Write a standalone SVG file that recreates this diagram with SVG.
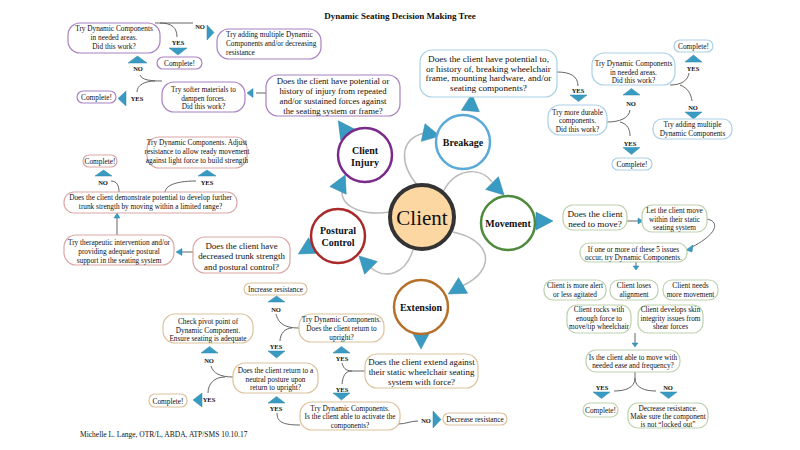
<svg xmlns="http://www.w3.org/2000/svg" width="800" height="450" viewBox="0 0 800 450">
<style>
text{font-family:"Liberation Serif","Times New Roman",serif;fill:#111;text-anchor:middle}
.t8{font-size:7.3px}
.t10{font-size:8.7px}
.t11{font-size:8.9px}
.lab{font-size:6.5px;font-weight:bold}
.cl{font-size:10px;font-weight:bold}
.l{text-anchor:start}
rect{fill:#fff;stroke-width:1.2}
.bp{stroke:#a882c2}
.br{stroke:#dba5a5}
.bt{stroke:#dcc39e}
.bb{stroke:#a9d0e6}
.bg{stroke:#bdd1ad}
.tri{fill:#3a9bc2;stroke:#2f86ab;stroke-width:0.5}
.c{fill:none;stroke:#555;stroke-width:0.9}
.cm{fill:none;stroke:#bbb;stroke-width:1.5}
circle{fill:#fff;stroke-width:2.5}
</style>
<defs>
<polygon id="big" points="-7,-9 10,0 -7,9" class="tri"/>
</defs>
<rect x="0" y="0" width="800" height="450" style="fill:#fff;stroke:none"/>
<text x="400" y="19" style="font-size:9px;font-weight:bold">Dynamic Seating Decision Making Tree</text>

<g id="connectors">
<path class="cm" d="M418,186 C400,165 398,140 424,133"/>
<path class="cm" d="M443,192 C455,168 480,166 492,182"/>
<path class="cm" d="M390,212 C365,216 342,208 342,192"/>
<path class="cm" d="M413,250 C405,275 385,280 370,267"/>
<path class="cm" d="M453,232 C492,240 497,270 462,286"/>
<use href="#big" transform="translate(430,134) rotate(12)"/>
<use href="#big" transform="translate(497,188) rotate(45)"/>
<use href="#big" transform="translate(341,184) rotate(-65)"/>
<use href="#big" transform="translate(366,263) rotate(-135)"/>
<use href="#big" transform="translate(457,289) rotate(150)"/>
<use href="#big" transform="translate(344,129) rotate(-125)"/>
<use href="#big" transform="translate(471,104) rotate(-85)"/>
<use href="#big" transform="translate(543,221) rotate(0)"/>
<use href="#big" transform="translate(307,249) rotate(150)"/>
<use href="#big" transform="translate(421,339) rotate(90)"/>
<!-- injury tree -->
<path class="c" d="M155,23 L193,23 M160,23 C172,23 177,28 177,37"/>
<path class="c" d="M140,75 C142,80 150,81 162,81 M137,92 C137,85 145,81 155,81"/>
<path class="c" d="M266,93 L256,93"/>
<!-- postural tree -->
<path class="c" d="M111,181 C117,181 119,186 119,192 M196,181 C180,181 166,184 165,192"/>
<path class="c" d="M117,235 L117,217 M193,252 L182,252"/>
<!-- extension tree -->
<path class="c" d="M276,314 C278,322 283,328 299,328 M280,341 C280,334 285,328 292,328"/>
<path class="c" d="M211,366 C213,373 220,377 233,377 M208,393 C208,384 214,377 225,377"/>
<path class="c" d="M277,413 C277,422 283,425 300,425"/>
<path class="c" d="M398,424 C406,424 410,421 418,421"/>
<path class="c" d="M365,371 L352,371 C345,371 343,367 342,363 M352,371 C345,371 343,376 342,384"/>
<!-- breakage tree -->
<path class="c" d="M557,72 C570,72 578,76 578,86"/>
<path class="c" d="M607,122 C620,122 629,118 630,110 M620,122 C628,124 630,130 630,136"/>
<path class="c" d="M670,85 C682,85 688,80 689,73 M680,85 C688,88 691,94 692,101"/>
<!-- movement tree -->
<path class="c" d="M627,221 L638,221"/>
<path class="c" d="M706,219 C718,220 721,232 692,247"/>
<path class="c" d="M636,262 L636,266 M635,333 L635,343"/>
<path class="c" d="M635,372 L635,378 C635,388 625,391 614,391 M635,378 C635,388 645,391 656,391"/>
<!-- small triangles -->
<polygon class="tri" points="207,25 214,32.5 207,40"/>
<polygon class="tri" points="169,48 187,48 178,55"/>
<polygon class="tri" points="128,63 147,63 137.5,56"/>
<polygon class="tri" points="126,91 126,106 118,98.5"/>
<polygon class="tri" points="253,88.5 253,97.5 247,93"/>
<polygon class="tri" points="95,176 112,176 103.5,170"/>
<polygon class="tri" points="198,176 216,176 207,170"/>
<polygon class="tri" points="114,218 120,218 117,213"/>
<polygon class="tri" points="182,248.5 182,255.5 176,252"/>
<polygon class="tri" points="268,302 285,302 276.5,296"/>
<polygon class="tri" points="268,351 285,351 276.5,358"/>
<polygon class="tri" points="201,353 218,353 209.5,346.5"/>
<polygon class="tri" points="202,393 202,407 193,400"/>
<polygon class="tri" points="268,403 285,403 276.5,396.5"/>
<polygon class="tri" points="333,353 350,353 341.5,346.5"/>
<polygon class="tri" points="333,393 350,393 341.5,400"/>
<polygon class="tri" points="433,411 433,428 441,419.5"/>
<polygon class="tri" points="570,95 587,95 578.5,101.5"/>
<polygon class="tri" points="623,95 640,95 631.5,88.5"/>
<polygon class="tri" points="623,147.5 640,147.5 631.5,154.5"/>
<polygon class="tri" points="685,62 702,62 693.5,55"/>
<polygon class="tri" points="685,112 702,112 693.5,119"/>
<polygon class="tri" points="638,218 638,224 643,221"/>
<polygon class="tri" points="693,245 692,252 686,250"/>
<polygon class="tri" points="633,266 639,266 636,270"/>
<polygon class="tri" points="632,343 638,343 635,347"/>
<polygon class="tri" points="593,392 610,392 601.5,398.5"/>
<polygon class="tri" points="660,392 677,392 668.5,398.5"/>
<!-- labels -->
<text class="lab" x="200" y="29">NO</text>
<text class="lab" x="178" y="45">YES</text>
<text class="lab" x="138" y="71">NO</text>
<text class="lab" x="137" y="101">YES</text>
<text class="lab" x="103" y="185">NO</text>
<text class="lab" x="207" y="185">YES</text>
<text class="lab" x="276" y="312">NO</text>
<text class="lab" x="276" y="349">YES</text>
<text class="lab" x="209" y="363">NO</text>
<text class="lab" x="209" y="402">YES</text>
<text class="lab" x="276" y="411">YES</text>
<text class="lab" x="342" y="360.5">YES</text>
<text class="lab" x="342" y="392">YES</text>
<text class="lab" x="426" y="423">NO</text>
<text class="lab" x="578" y="93">YES</text>
<text class="lab" x="631" y="105.5">NO</text>
<text class="lab" x="630" y="145.5">YES</text>
<text class="lab" x="693" y="71">YES</text>
<text class="lab" x="693" y="109.5">NO</text>
<text class="lab" x="602" y="389.5">YES</text>
<text class="lab" x="668" y="389.5">NO</text>
</g>

<g id="client"><circle cx="422" cy="217" r="32" style="fill:#fcd7a2;stroke:#333;stroke-width:4"/><text x="422" y="225" style="font-size:21px">Client</text></g>
<g id="injury"><circle cx="365" cy="155" r="27" style="stroke:#7a2a8a"/><text class="cl" x="365" y="154">Client</text><text class="cl" x="365" y="165.5">Injury</text></g>
<g id="breakage"><circle cx="463" cy="142" r="27" style="stroke:#5aaad8"/><text class="cl" x="463" y="145.5">Breakage</text></g>
<g id="movement"><circle cx="508" cy="223" r="27" style="stroke:#4f8a3c"/><text class="cl" x="508" y="226.5">Movement</text></g>
<g id="postural"><circle cx="338" cy="236" r="27" style="stroke:#a82a2a"/><text class="cl" x="338" y="234">Postural</text><text class="cl" x="338" y="245.5">Control</text></g>
<g id="extension"><circle cx="421" cy="307" r="27" style="stroke:#b5702a"/><text class="cl" x="421" y="310.5">Extension</text></g>

<g id="inj-q"><rect class="bp" x="266" y="75" width="134" height="41" rx="12"/><text class="t10" x="333"><tspan x="333" y="84">Does the client have potential or</tspan><tspan x="333" y="94">history of injury from repeated</tspan><tspan x="333" y="104">and/or sustained forces against</tspan><tspan x="333" y="113.5">the seating system or frame?</tspan></text></g>
<g id="inj-softer"><rect class="bp" x="162" y="82" width="83" height="30" rx="12"/><text class="t8"><tspan x="203.5" y="91.5">Try softer materials to</tspan><tspan x="203.5" y="100.5">dampen forces.</tspan><tspan x="203.5" y="109">Did this work?</tspan></text></g>
<g id="inj-complete2"><rect class="bp" x="77" y="91" width="39" height="12" rx="6"/><text class="t8" x="96.5" y="100">Complete!</text></g>
<g id="inj-dyn"><rect class="bp" x="68" y="23" width="92" height="30" rx="12"/><text class="t8"><tspan x="114" y="31">Try Dynamic Components</tspan><tspan x="114" y="39.5">in needed areas.</tspan><tspan x="114" y="48.5">Did this work?</tspan></text></g>
<g id="inj-complete1"><rect class="bp" x="157" y="57" width="45" height="12" rx="6"/><text class="t8" x="179.5" y="66">Complete!</text></g>
<g id="inj-multi"><rect class="bp" x="217" y="29" width="104" height="30" rx="12"/><text class="t8 l"><tspan x="226" y="37">Try adding multiple Dynamic</tspan><tspan x="226" y="46">Components and/or decreasing</tspan><tspan x="226" y="55">resistance</tspan></text></g>

<g id="pos-q"><rect class="br" x="193" y="237" width="97" height="36" rx="12"/><text class="t11"><tspan x="241.5" y="248.5">Does the client have</tspan><tspan x="241.5" y="259">decreased trunk strength</tspan><tspan x="241.5" y="269.5">and postural control?</tspan></text></g>
<g id="pos-ther"><rect class="br" x="64" y="235" width="110" height="30" rx="12"/><text class="t8"><tspan x="119" y="245">Try therapeutic intervention and/or</tspan><tspan x="119" y="253.5">providing adequate postural</tspan><tspan x="119" y="262.5">support in the seating system</tspan></text></g>
<g id="pos-demo"><rect class="br" x="64" y="192" width="173" height="21" rx="10"/><text class="t8"><tspan x="150.5" y="200">Does the client demonstrate potential to develop further</tspan><tspan x="150.5" y="208.5">trunk strength by moving within a limited range?</tspan></text></g>
<g id="pos-complete"><rect class="br" x="83" y="155" width="34" height="12" rx="6"/><text class="t8" x="100" y="164">Complete!</text></g>
<g id="pos-dyn"><rect class="br" x="147" y="137" width="100" height="31" rx="12"/><text class="t8"><tspan x="197" y="144.5">Try Dynamic Components. Adjust</tspan><tspan x="197" y="153.5">resistance to allow ready movement</tspan><tspan x="197" y="162.5">against light force to build strength</tspan></text></g>

<g id="ext-q"><rect class="bt" x="365" y="354" width="113" height="34" rx="12"/><text class="t11"><tspan x="421.5" y="365">Does the client extend against</tspan><tspan x="421.5" y="375">their static wheelchair seating</tspan><tspan x="421.5" y="385">system with force?</tspan></text></g>
<g id="ext-dyn1"><rect class="bt" x="299" y="314" width="85" height="28" rx="12"/><text class="t8"><tspan x="341.5" y="322">Try Dynamic Components.</tspan><tspan x="341.5" y="331">Does the client return to</tspan><tspan x="341.5" y="340">upright?</tspan></text></g>
<g id="ext-inc"><rect class="bt" x="244" y="283" width="63" height="12" rx="6"/><text class="t8" x="275.5" y="292">Increase resistance</text></g>
<g id="ext-neutral"><rect class="bt" x="233" y="363" width="85" height="30" rx="12"/><text class="t8"><tspan x="275.5" y="373">Does the client return to a</tspan><tspan x="275.5" y="381.5">neutral posture upon</tspan><tspan x="275.5" y="390">return to upright?</tspan></text></g>
<g id="ext-pivot"><rect class="bt" x="163" y="314" width="90" height="29" rx="12"/><text class="t8"><tspan x="208" y="324">Check pivot point of</tspan><tspan x="208" y="332.5">Dynamic Component.</tspan><tspan x="208" y="341">Ensure seating is adequate</tspan></text></g>
<g id="ext-complete"><rect class="bt" x="149" y="394" width="38" height="13" rx="6"/><text class="t8" x="168" y="403.5">Complete!</text></g>
<g id="ext-dyn2"><rect class="bt" x="300" y="402" width="100" height="28" rx="12"/><text class="t8"><tspan x="350" y="410.5">Try Dynamic Components.</tspan><tspan x="350" y="419">Is the client able to activate the</tspan><tspan x="350" y="427.5">components?</tspan></text></g>
<g id="ext-dec"><rect class="bt" x="443" y="413" width="64" height="12" rx="6"/><text class="t8" x="475" y="422">Decrease resistance</text></g>

<g id="brk-q"><rect class="bb" x="420" y="50" width="137" height="47" rx="12"/><text style="font-size:9.2px"><tspan x="488.5" y="61.5">Does the client have potential to,</tspan><tspan x="488.5" y="71.5">or history of, breaking wheelchair</tspan><tspan x="488.5" y="81">frame, mounting hardware, and/or</tspan><tspan x="488.5" y="91">seating components?</tspan></text></g>
<g id="brk-durable"><rect class="bb" x="548" y="105" width="59" height="30" rx="12"/><text class="t8"><tspan x="577.5" y="114.5">Try more durable</tspan><tspan x="577.5" y="123">components.</tspan><tspan x="577.5" y="132">Did this work?</tspan></text></g>
<g id="brk-complete1"><rect class="bb" x="612" y="158" width="40" height="12" rx="6"/><text class="t8" x="632" y="167">Complete!</text></g>
<g id="brk-dyn"><rect class="bb" x="592" y="53" width="83" height="32" rx="12"/><text class="t8"><tspan x="633.5" y="66">Try Dynamic Components</tspan><tspan x="633.5" y="74.5">in needed areas.</tspan><tspan x="633.5" y="83">Did this work?</tspan></text></g>
<g id="brk-complete2"><rect class="bb" x="674" y="40" width="39" height="12" rx="6"/><text class="t8" x="693.5" y="49">Complete!</text></g>
<g id="brk-multi"><rect class="bb" x="653" y="119" width="79" height="20" rx="9"/><text class="t8"><tspan x="692.5" y="127">Try adding multiple</tspan><tspan x="692.5" y="135.5">Dynamic Components</tspan></text></g>

<g id="mov-q"><rect class="bg" x="563" y="205" width="64" height="25" rx="10"/><text style="font-size:9.2px"><tspan x="595" y="216.5">Does the client</tspan><tspan x="595" y="227">need to move?</tspan></text></g>
<g id="mov-let"><rect class="bg" x="642" y="205" width="65" height="27" rx="10"/><text class="t8"><tspan x="674.5" y="212.5">Let the client move</tspan><tspan x="674.5" y="221.5">within their static</tspan><tspan x="674.5" y="230">seating system</tspan></text></g>
<g id="mov-if"><rect class="bg" x="580" y="243" width="107" height="19" rx="9"/><text class="t8"><tspan x="633.5" y="251.5">If one or more of these 5 issues</tspan><tspan x="633.5" y="259.5">occur, try Dynamic Components.</tspan></text></g>
<g id="mov-alert"><rect class="bg" x="544" y="280" width="62" height="20" rx="9"/><text class="t8"><tspan x="575" y="288">Client is more alert</tspan><tspan x="575" y="296.5">or less agitated</tspan></text></g>
<g id="mov-align"><rect class="bg" x="610" y="280" width="48" height="20" rx="9"/><text class="t8"><tspan x="634" y="288">Client loses</tspan><tspan x="634" y="296.5">alignment</tspan></text></g>
<g id="mov-needs"><rect class="bg" x="663" y="280" width="55" height="20" rx="9"/><text class="t8"><tspan x="690.5" y="288">Client needs</tspan><tspan x="690.5" y="296.5">more movement</tspan></text></g>
<g id="mov-rocks"><rect class="bg" x="567" y="305" width="64" height="28" rx="10"/><text class="t8"><tspan x="599" y="312">Client rocks with</tspan><tspan x="599" y="320.5">enough force to</tspan><tspan x="599" y="329">move/tip wheelchair</tspan></text></g>
<g id="mov-skin"><rect class="bg" x="638" y="305" width="65" height="28" rx="10"/><text class="t8"><tspan x="670.5" y="312">Client develops skin</tspan><tspan x="670.5" y="320.5">integrity issues from</tspan><tspan x="670.5" y="329">shear forces</tspan></text></g>
<g id="mov-able"><rect class="bg" x="586" y="350" width="94" height="22" rx="10"/><text class="t8"><tspan x="633" y="359.5">Is the client able to move with</tspan><tspan x="633" y="368">needed ease and frequency?</tspan></text></g>
<g id="mov-complete"><rect class="bg" x="583" y="403" width="35" height="14" rx="7"/><text class="t8" x="600.5" y="412.5">Complete!</text></g>
<g id="mov-dec"><rect class="bg" x="628" y="403" width="80" height="25" rx="10"/><text class="t8"><tspan x="668" y="410.5">Decrease resistance.</tspan><tspan x="668" y="418.5">Make sure the component</tspan><tspan x="668" y="426.5">is not “locked out”</tspan></text></g>

<text class="l" x="80" y="437" style="font-size:7.5px">Michelle L. Lange, OTR/L, ABDA, ATP/SMS 10.10.17</text>
</svg>
